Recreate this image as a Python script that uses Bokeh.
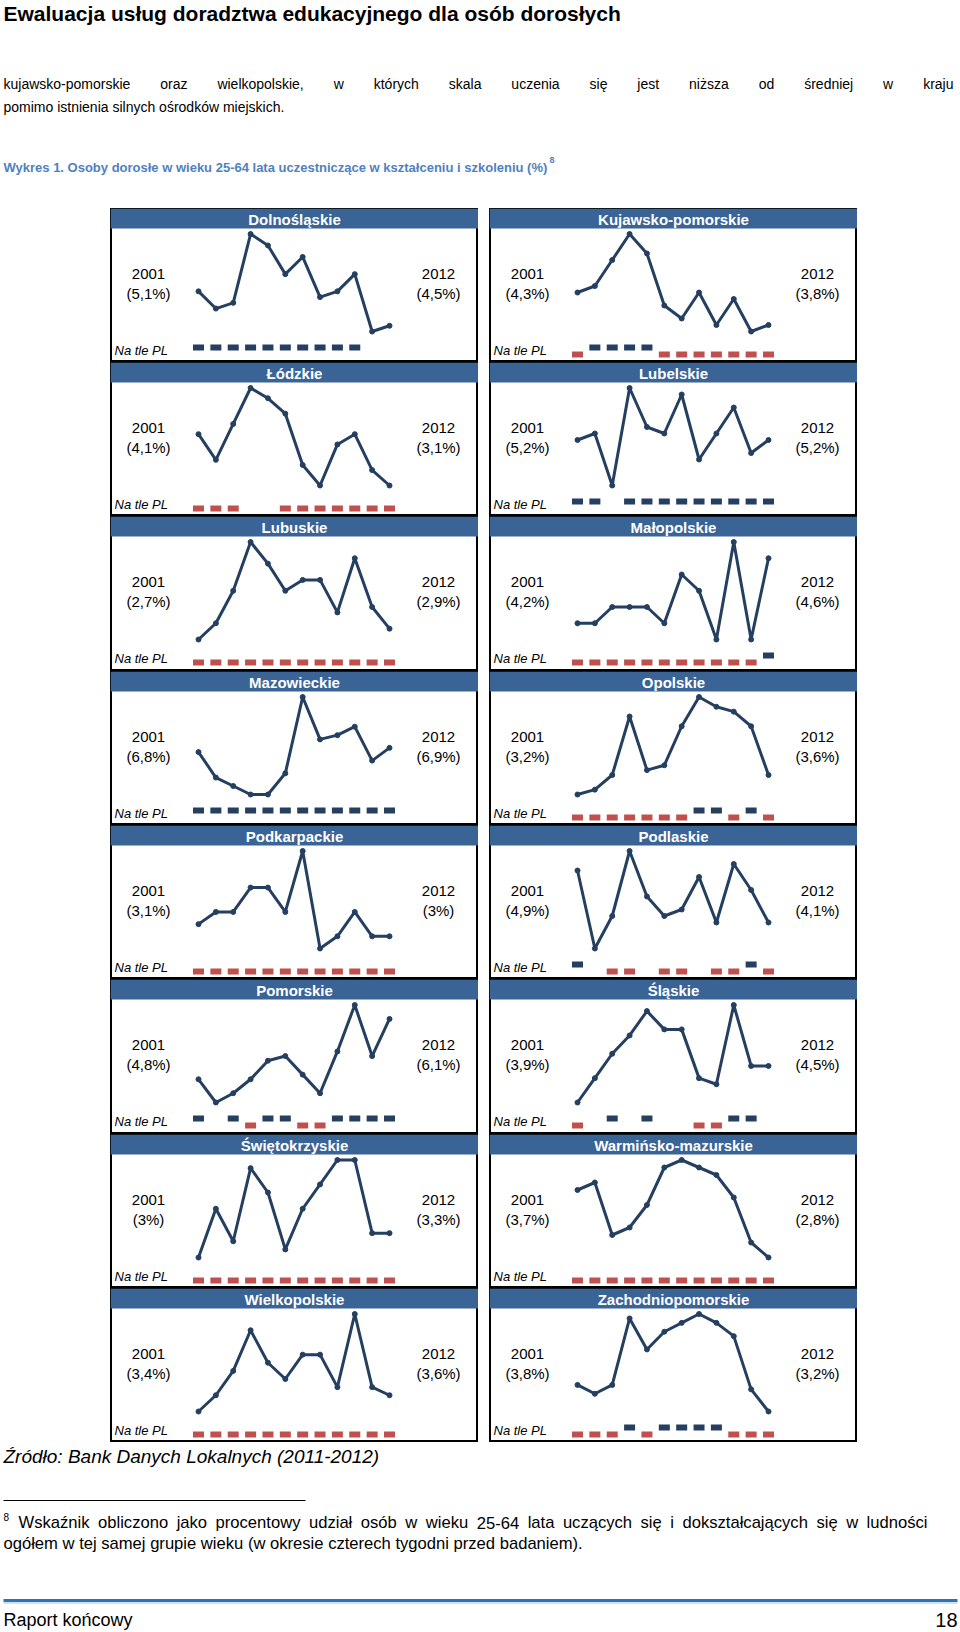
from bokeh.plotting import figure
from bokeh.models import Range1d, Label, ColumnDataSource, Spacer
from bokeh.layouts import column, row
from bokeh.transform import factor_cmap
from bokeh.embed import file_html
from bokeh.resources import INLINE

# ---------------- data ----------------
years = [2001, 2002, 2003, 2004, 2005, 2006, 2007, 2008, 2009, 2010, 2011, 2012]

regions = ["Dolnośląskie", "Kujawsko-pomorskie", "Łódzkie", "Lubelskie",
           "Lubuskie", "Małopolskie", "Mazowieckie", "Opolskie",
           "Podkarpackie", "Podlaskie", "Pomorskie", "Śląskie",
           "Świętokrzyskie", "Warmińsko-mazurskie", "Wielkopolskie",
           "Zachodniopomorskie"]

# share of adults 25-64 in education and training (%), 2001..2012
dolnoslaskie = [5.1, 4.8, 4.9, 6.1, 5.9, 5.4, 5.7, 5.0, 5.1, 5.4, 4.4, 4.5]
kujawsko_pomorskie = [4.3, 4.4, 4.8, 5.2, 4.9, 4.1, 3.9, 4.3, 3.8, 4.2, 3.7, 3.8]
lodzkie = [4.1, 3.6, 4.3, 5.0, 4.8, 4.5, 3.5, 3.1, 3.9, 4.1, 3.4, 3.1]
lubelskie = [5.2, 5.3, 4.5, 6.0, 5.4, 5.3, 5.9, 4.9, 5.3, 5.7, 5.0, 5.2]
lubuskie = [2.7, 3.0, 3.6, 4.5, 4.1, 3.6, 3.8, 3.8, 3.2, 4.2, 3.3, 2.9]
malopolskie = [4.2, 4.2, 4.3, 4.3, 4.3, 4.2, 4.5, 4.4, 4.1, 4.7, 4.1, 4.6]
mazowieckie = [6.8, 6.2, 6.0, 5.8, 5.8, 6.3, 8.1, 7.1, 7.2, 7.4, 6.6, 6.9]
opolskie = [3.2, 3.3, 3.6, 4.8, 3.7, 3.8, 4.6, 5.2, 5.0, 4.9, 4.6, 3.6]
podkarpackie = [3.1, 3.2, 3.2, 3.4, 3.4, 3.2, 3.7, 2.9, 3.0, 3.2, 3.0, 3.0]
podlaskie = [4.9, 3.7, 4.2, 5.2, 4.5, 4.2, 4.3, 4.8, 4.1, 5.0, 4.6, 4.1]
pomorskie = [4.8, 4.3, 4.5, 4.8, 5.2, 5.3, 4.9, 4.5, 5.4, 6.4, 5.3, 6.1]
slaskie = [3.9, 4.3, 4.7, 5.0, 5.4, 5.1, 5.1, 4.3, 4.2, 5.5, 4.5, 4.5]
swietokrzyskie = [3.0, 3.6, 3.2, 4.1, 3.8, 3.1, 3.6, 3.9, 4.2, 4.2, 3.3, 3.3]
warminsko_mazurskie = [3.7, 3.8, 3.1, 3.2, 3.5, 4.0, 4.1, 4.0, 3.9, 3.6, 3.0, 2.8]
wielkopolskie = [3.4, 3.6, 3.9, 4.4, 4.0, 3.8, 4.1, 4.1, 3.7, 4.6, 3.7, 3.6]
zachodniopomorskie = [3.8, 3.6, 3.8, 5.3, 4.6, 5.0, 5.2, 5.4, 5.2, 4.9, 3.7, 3.2]

# "Na tle PL": W = above Poland, N = below Poland, . = no mark
pl_dolnoslaskie = "WWWWWWWWWW.."
pl_kujawsko_pomorskie = "NWWWWNNNNNNN"
pl_lodzkie = "NNN..NNNNNNN"
pl_lubelskie = "WW.WWWWWWWWW"
pl_lubuskie = "NNNNNNNNNNNN"
pl_malopolskie = "NNNNNNNNNNNW"
pl_mazowieckie = "WWWWWWWWWWWW"
pl_opolskie = "NNNNNNNWWNWN"
pl_podkarpackie = "NNNNNNNNNNNN"
pl_podlaskie = "W.NN.NN.NNWN"
pl_pomorskie = "W.WNWWNNWWWW"
pl_slaskie = "N.W.W..NNWW."
pl_swietokrzyskie = "NNNNNNNNNNNN"
pl_warminsko_mazurskie = "NNNNNNNNNNNN"
pl_wielkopolskie = "NNNNNNNNNNNN"
pl_zachodniopomorskie = "NNNWNWWWWNNN"

series = [dolnoslaskie, kujawsko_pomorskie, lodzkie, lubelskie, lubuskie,
          malopolskie, mazowieckie, opolskie, podkarpackie, podlaskie,
          pomorskie, slaskie, swietokrzyskie, warminsko_mazurskie,
          wielkopolskie, zachodniopomorskie]
versus_pl = [pl_dolnoslaskie, pl_kujawsko_pomorskie, pl_lodzkie, pl_lubelskie,
             pl_lubuskie, pl_malopolskie, pl_mazowieckie, pl_opolskie,
             pl_podkarpackie, pl_podlaskie, pl_pomorskie, pl_slaskie,
             pl_swietokrzyskie, pl_warminsko_mazurskie, pl_wielkopolskie,
             pl_zachodniopomorskie]

TITLE = "Ewaluacja usług doradztwa edukacyjnego dla osób dorosłych"
PARA1 = "kujawsko-pomorskie oraz wielkopolskie, w których skala uczenia się jest niższa od średniej w kraju"
PARA2 = "pomimo istnienia silnych ośrodków miejskich."
CAPTION = "Wykres 1. Osoby dorosłe w wieku 25-64 lata uczestniczące w kształceniu i szkoleniu (%)"
SOURCE = "Źródło: Bank Danych Lokalnych (2011-2012)"
FOOT1 = "Wskaźnik obliczono jako procentowy udział osób w wieku 25-64 lata uczących się i dokształcających się w ludności"
FOOT2 = "ogółem w tej samej grupie wieku (w okresie czterech tygodni przed badaniem)."
FOOTER_L = "Raport końcowy"
FOOTER_R = "18"

# ---------------- style / layout ----------------
NAVY = "#243F60"
RED = "#C0504D"
HDR = "#3A6396"
CAPTION_BLUE = "#4F81BD"
RULE_BLUE = "#2E74B5"
FONT = "Liberation Sans"

PAGE_W = 960
TOP_H = 208
BOTTOM_H = 190
LEFT_PAD = 110
COL_GAP = 11
PANEL_W = 368
PANEL_HS = [154, 154, 155, 154, 154, 155, 154, 154]
HEADER_H = 20
LINE_TOP, LINE_BOT = 25.5, 123      # px from panel top for max / min
X_FIRST, X_LAST = 88, 279           # px from panel left for 2001 / 2012
PL_ABOVE, PL_BELOW = 139, 146       # px from panel top for squares

# Arial-compatible advance widths (1/1000 em)
AW = {' ': 278, 'a': 556, 'b': 556, 'c': 500, 'd': 556, 'e': 556, 'f': 278,
      'g': 556, 'h': 556, 'i': 222, 'j': 222, 'k': 500, 'l': 222, 'm': 833,
      'n': 556, 'o': 556, 'p': 556, 'r': 333, 's': 500, 't': 278, 'u': 556,
      'w': 722, 'y': 500, 'z': 500, ',': 278, '.': 278, '-': 333, 'ó': 556,
      'ś': 500, 'ę': 556, 'ż': 500, 'ą': 556, 'ł': 222, 'ń': 556, 'ź': 500,
      'W': 944, '2': 556, '5': 556, '6': 556, '4': 556}


def text_w(s, size):
    return sum(AW.get(c, 556) for c in s) / 1000.0 * size


def blank(w, h):
    p = figure(width=w, height=h, x_range=Range1d(0, w), y_range=Range1d(h, 0),
               output_backend="svg", toolbar_location=None, min_border=0,
               x_axis_location=None, y_axis_location=None)
    p.grid.grid_line_color = None
    p.outline_line_color = None
    p.background_fill_color = "white"
    p.border_fill_color = "white"
    return p


def txt(p, x, y, s, size, style="normal", color="black", align="left"):
    p.add_layout(Label(x=x, y=y, text=s, text_font=FONT,
                       text_font_size=f"{size}px", text_font_style=style,
                       text_color=color, text_align=align,
                       text_baseline="middle"))


def justified(p, line, x_left, x_right, y, size):
    words = line.split()
    tot = sum(text_w(w, size) for w in words)
    gap = (x_right - x_left - tot) / (len(words) - 1)
    xx = x_left
    for i, w in enumerate(words):
        if i == len(words) - 1:
            txt(p, x_right, y, w, size, align="right")
        else:
            txt(p, xx, y, w, size)
        xx += text_w(w, size) + gap


def pct(v):
    s = ("%.1f" % v).rstrip("0").rstrip(".")
    return "(" + s.replace(".", ",") + "%)"


# ---------------- top block ----------------
top = blank(PAGE_W, TOP_H)
txt(top, 3, 13, TITLE, 21, style="bold")
BODY = 14
justified(top, PARA1, 3, 953, 83, BODY)
txt(top, 3, 106, PARA2, BODY)
txt(top, 3, 167, CAPTION, 13, style="bold", color=CAPTION_BLUE)
txt(top, 549, 159, "8", 9, style="bold", color=CAPTION_BLUE)


# ---------------- panels ----------------
def panel(name, vals, pl, H):
    W = PANEL_W
    lo, hi = min(vals), max(vals)
    span = hi - lo
    y0 = lo - (H - LINE_BOT) / (LINE_BOT - LINE_TOP) * span
    y1 = hi + LINE_TOP / (LINE_BOT - LINE_TOP) * span
    ppy = (X_LAST - X_FIRST) / (years[-1] - years[0])
    x0 = years[0] - X_FIRST / ppy
    x1 = years[-1] + (W - X_LAST) / ppy

    def ry(px_from_top):
        return y1 - px_from_top / H * (y1 - y0)

    def rx(px_from_left):
        return x0 + px_from_left / W * (x1 - x0)

    mid = (PL_ABOVE + PL_BELOW) / 2.0
    half = (PL_BELOW - PL_ABOVE) / 2.0
    ps = -(H - mid) / half
    pe = ps + H / half

    p = figure(width=W, height=H, x_range=Range1d(x0, x1),
               y_range=Range1d(y0, y1), output_backend="svg",
               toolbar_location=None, min_border=0,
               x_axis_location=None, y_axis_location=None)
    p.extra_y_ranges = {"pl": Range1d(ps, pe)}
    p.grid.grid_line_color = None
    p.outline_line_color = "black"
    p.outline_line_width = 3
    p.background_fill_color = "white"
    p.border_fill_color = "white"

    # header band
    p.quad(left=[x0], right=[x1], bottom=[ry(HEADER_H)], top=[y1],
           fill_color=HDR, line_color=None)
    p.add_layout(Label(x=rx(W / 2), y=ry(HEADER_H / 2 + 0.5), text=name,
                       text_font=FONT, text_font_size="15px",
                       text_font_style="bold", text_color="white",
                       text_align="center", text_baseline="middle"))

    # series
    src = ColumnDataSource(dict(year=years, v=vals))
    p.line("year", "v", source=src, line_color=NAVY, line_width=3)
    p.scatter("year", "v", source=src, size=5, color=NAVY)

    # end labels
    for lx, yr, v in ((38, years[0], vals[0]), (328, years[-1], vals[-1])):
        for ty, s in ((65, str(yr)), (85, pct(v))):
            p.add_layout(Label(x=rx(lx), y=ry(ty), text=s,
                               text_font=FONT, text_font_size="15px",
                               text_color="black", text_align="center",
                               text_baseline="middle"))

    # vs Poland squares
    keep = [i for i, c in enumerate(pl) if c in "WN"]
    status = ["wyżej" if pl[i] == "W" else "niżej" for i in keep]
    sq = ColumnDataSource(dict(year=[years[i] for i in keep],
                               lvl=[1 if s == "wyżej" else -1 for s in status],
                               status=status))
    p.rect("year", "lvl", source=sq, width=11, height=6,
           width_units="screen", height_units="screen",
           fill_color=factor_cmap("status", [NAVY, RED], ["wyżej", "niżej"]),
           line_color=None, y_range_name="pl")
    p.add_layout(Label(x=rx(4), y=ry(142), text="Na tle PL",
                       text_font=FONT, text_font_size="13px",
                       text_font_style="italic", text_color="black",
                       text_align="left", text_baseline="middle"))
    return p


left_col, right_col = [], []
for i, (name, vals, pl) in enumerate(zip(regions, series, versus_pl)):
    H = PANEL_HS[i // 2]
    (left_col if i % 2 == 0 else right_col).append(panel(name, vals, pl, H))

grid = row(Spacer(width=LEFT_PAD, height=10), column(*left_col, spacing=0),
           Spacer(width=COL_GAP, height=10), column(*right_col, spacing=0),
           spacing=0)

# ---------------- bottom block ----------------
bot = blank(PAGE_W, BOTTOM_H)
txt(bot, 3, 14, SOURCE, 19, style="italic")
bot.segment(x0=[3], y0=[58], x1=[305], y1=[58], line_color="black", line_width=1)
txt(bot, 3, 74, "8", 10)
FOOT = 16.6
justified(bot, FOOT1, 18, 927, 80, FOOT)
txt(bot, 3, 101, FOOT2, FOOT)
bot.segment(x0=[3], y0=[158], x1=[957], y1=[158], line_color=RULE_BLUE, line_width=3)
bot.segment(x0=[3], y0=[160.5], x1=[957], y1=[160.5], line_color="#9DC3E6", line_width=1)
txt(bot, 3, 177, FOOTER_L, 18)
txt(bot, 957, 177, FOOTER_R, 20, align="right")

page = column(top, grid, bot, spacing=0)

open("out.html", "w").write(file_html(page, INLINE))
